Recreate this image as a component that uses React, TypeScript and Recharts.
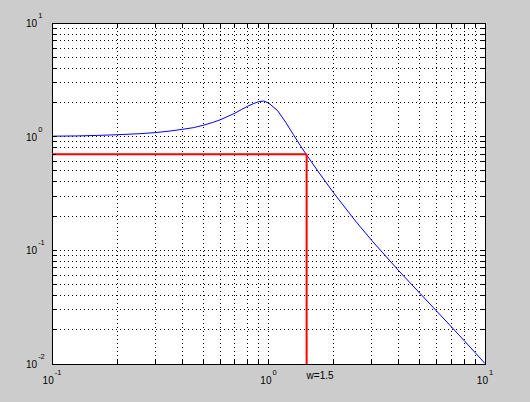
import React from 'react';
import { LineChart, Line, XAxis, YAxis, CartesianGrid, ReferenceLine, ReferenceArea } from 'recharts';

// frequency (rad/s) and magnitude
const freq = [0.1, 0.13, 0.16, 0.2, 0.25, 0.3, 0.35, 0.4, 0.45, 0.5, 0.55, 0.6, 0.65, 0.7, 0.75, 0.8, 0.85, 0.9, 0.95, 1.0, 1.1, 1.2, 1.3, 1.4, 1.5, 1.7, 2.0, 2.5, 3.0, 4.0, 5.0, 6.0, 7.0, 8.0, 9.0, 10.0];
const mag = [1.01, 1.015, 1.025, 1.04, 1.06, 1.085, 1.12, 1.16, 1.2, 1.26, 1.33, 1.41, 1.51, 1.61, 1.73, 1.85, 1.95, 2.03, 2.06, 1.98, 1.7, 1.34, 1.05, 0.84, 0.69, 0.49, 0.32, 0.185, 0.122, 0.066, 0.042, 0.029, 0.0212, 0.0161, 0.0126, 0.0101];

// red marker: bandwidth point
const markW = 1.5;
const markMag = 0.7;
const markLabel = 'w=1.5';

const xTicks = [0.1, 0.2, 0.3, 0.4, 0.5, 0.6, 0.7, 0.8, 0.9, 1, 2, 3, 4, 5, 6, 7, 8, 9, 10];
const yTicks = [0.01, 0.02, 0.03, 0.04, 0.05, 0.06, 0.07, 0.08, 0.09, 0.1, 0.2, 0.3, 0.4, 0.5, 0.6, 0.7, 0.8, 0.9, 1, 2, 3, 4, 5, 6, 7, 8, 9, 10];

const data = freq.map((w, i) => ({ w, m: mag[i] }));

const W = 530;
const H = 402;
const PLOT_W = 433;
const PLOT_H = 341;
const FONT = '"Liberation Sans", Arial, Helvetica, sans-serif';

const majorExp = (v: number) => {
  const e = Math.round(Math.log10(v));
  return Math.abs(v - Math.pow(10, e)) < 1e-9 ? e : null;
};

const XTick = (props: any) => {
  const { x, y, payload } = props;
  const e = majorExp(payload.value);
  return (
    <g shapeRendering="crispEdges">
      <line x1={x} x2={x} y1={y} y2={y - 4} stroke="#000" />
      <line x1={x} x2={x} y1={y - PLOT_H} y2={y - PLOT_H + 4} stroke="#000" />
      {e !== null && (
        <text x={x} y={y + 20} textAnchor="middle" fontSize={10} fontFamily={FONT} fill="#000">
          <tspan>10</tspan>
          <tspan dx={1} dy={-9} fontSize={7.5}>{e}</tspan>
        </text>
      )}
    </g>
  );
};

const YTick = (props: any) => {
  const { x, y, payload } = props;
  const e = majorExp(payload.value);
  return (
    <g shapeRendering="crispEdges">
      <line x1={x} x2={x + 4} y1={y} y2={y} stroke="#000" />
      <line x1={x + PLOT_W - 4} x2={x + PLOT_W} y1={y} y2={y} stroke="#000" />
      {e !== null && (
        <text x={26} y={y + 4} textAnchor="start" fontSize={10} fontFamily={FONT} fill="#000">
          <tspan>10</tspan>
          <tspan dx={1} dy={-9} fontSize={7.5}>{e}</tspan>
        </text>
      )}
    </g>
  );
};

const WLabel = (props: any) => {
  const vb = props.viewBox || {};
  const x = vb.x ?? vb.x1;
  const bottom = vb.height != null ? vb.y + vb.height : Math.max(vb.y1, vb.y2);
  return (
    <text x={x} y={bottom + 15} fontSize={10} fontFamily={FONT} fill="#000">
      {markLabel}
    </text>
  );
};

const App: React.FC = () => {
  return (
    <div style={{ position: 'absolute', left: 0, top: 0, width: W, height: H, background: '#cccccc' }}>
      <LineChart width={W} height={H} data={data} margin={{ top: 23, right: 45, bottom: 8, left: 12 }}>
        <CartesianGrid fill="#ffffff" stroke="#000" strokeDasharray="1 3" shapeRendering="crispEdges" />
        <XAxis
          dataKey="w"
          type="number"
          scale="log"
          domain={[0.1, 10]}
          ticks={xTicks}
          interval={0}
          height={30}
          tickSize={0}
          tickMargin={0}
          axisLine={false}
          tickLine={false}
          tick={<XTick />}
          allowDataOverflow
        />
        <YAxis
          type="number"
          scale="log"
          domain={[0.01, 10]}
          ticks={yTicks}
          interval={0}
          width={40}
          tickSize={0}
          tickMargin={0}
          axisLine={false}
          tickLine={false}
          tick={<YTick />}
          allowDataOverflow
        />
        <Line dataKey="m" stroke="#0000ff" strokeWidth={1} dot={false} isAnimationActive={false} />
        <ReferenceLine
          segment={[{ x: 0.1, y: markMag }, { x: markW, y: markMag }]}
          stroke="#ff0000"
          strokeWidth={2}
        />
        <ReferenceLine
          segment={[{ x: markW, y: markMag }, { x: markW, y: 0.01 }]}
          stroke="#ff0000"
          strokeWidth={2}
          label={<WLabel />}
        />
        <ReferenceArea
          x1={0.1}
          x2={10}
          y1={0.01}
          y2={10}
          shape={(p: any) => (
            <rect x={p.x} y={p.y} width={p.width} height={p.height} fill="none" stroke="#000" shapeRendering="crispEdges" />
          )}
        />
      </LineChart>
    </div>
  );
};

export default App;
